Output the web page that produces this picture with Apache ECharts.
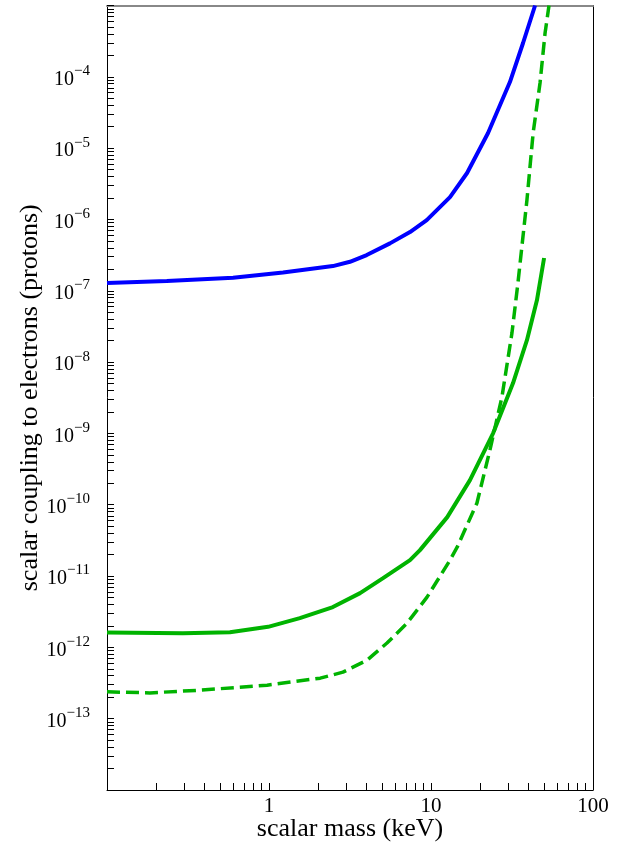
<!DOCTYPE html>
<html>
<head>
<meta charset="utf-8">
<script src="https://cdn.jsdelivr.net/npm/echarts@6/dist/echarts.min.js"></script>
<style>
  html, body { margin: 0; padding: 0; background: #fff; }
</style>
</head>
<body>
<!-- chart container, same size as the reference -->
<div id="main" style="width: 631px;height:844px;"></div>

<script type="text/javascript">

    // tick labels
    var massTicks = [1, 10, 100];
    var couplingTicks = [1e-13, 1e-12, 1e-11, 1e-10, 1e-9, 1e-8, 1e-7, 1e-6, 1e-5, 1e-4];

    // blue: electrons
    var blueMass = [0.1, 0.234, 0.60, 1.22, 2.48, 3.16, 4.01, 5.58, 7.42, 9.41, 13.1, 16.7, 22.5, 30.7, 37.0, 43.9];
    var blueCoupling = [1.29e-7, 1.37e-7, 1.52e-7, 1.81e-7, 2.22e-7, 2.55e-7, 3.17e-7, 4.62e-7, 6.65e-7, 9.8e-7, 2.06e-6, 4.48e-6, 1.63e-5, 8.45e-5, 2.98e-4, 1.0e-3];

    // green solid: protons
    var greenMass = [0.1, 0.294, 0.574, 0.987, 1.55, 2.48, 3.65, 5.06, 7.42, 8.55, 12.6, 17.4, 24.2, 32.1, 39.1, 45.1, 49.9];
    var greenCoupling = [1.62e-12, 1.58e-12, 1.63e-12, 1.94e-12, 2.57e-12, 3.67e-12, 5.76e-12, 9.35e-12, 1.67e-11, 2.31e-11, 6.70e-11, 2.21e-10, 1.01e-9, 5.08e-9, 2.03e-8, 7.41e-8, 2.88e-7];

    // green dashed
    var dashMass = [0.1, 0.184, 0.375, 0.973, 2.07, 2.86, 4.03, 5.35, 7.11, 9.45, 13.1, 14.5, 19.2, 23.1, 27.4, 31.6, 34.4, 39.1, 42.7, 47.1, 50.6, 53.5];
    var dashCoupling = [2.38e-13, 2.30e-13, 2.51e-13, 2.95e-13, 3.70e-13, 4.49e-13, 6.61e-13, 1.15e-12, 2.18e-12, 5.06e-12, 1.67e-11, 2.54e-11, 1.05e-10, 5.83e-10, 3.23e-9, 2.55e-8, 1.28e-7, 1.87e-6, 1.63e-5, 8.18e-5, 4.11e-4, 1.0e-3];

    function zip(xs, ys) {
        return xs.map(function (x, i) { return [x, ys[i]]; });
    }

    // ticks at 1..9 x 10^k
    function logTicks(lo, hi) {
        var out = [];
        for (var e = lo; e < hi; e++) {
            for (var m = 1; m < 10; m++) {
                out.push(Number((m + 'e' + e)));
            }
        }
        out.push(Number('1e' + hi));
        return out;
    }

    var font = 'Liberation Serif';

    var myChart = echarts.init(document.getElementById('main'));

    var option = {
        animation: false,
        backgroundColor: '#fff',
        grid: {
            left: 107,
            right: 38,
            top: 5.5,
            bottom: 54,
            containLabel: false,
            outerBoundsMode: 'none'
        },
        xAxis: [{
            type: 'log',
            logBase: 10,
            min: 0.1,
            max: 100,
            name: 'scalar mass (keV)',
            nameLocation: 'middle',
            nameGap: 26,
            nameMoveOverlap: false,
            nameTextStyle: { fontFamily: font, fontSize: 26, color: '#000' },
            axisLine: { lineStyle: { color: '#000', width: 1 } },
            axisTick: {
                inside: true,
                length: 7,
                customValues: logTicks(-1, 2),
                lineStyle: { color: '#000' }
            },
            axisLabel: {
                customValues: massTicks,
                margin: 6,
                fontFamily: font,
                fontSize: 21,
                color: '#000',
                formatter: function (v) { return String(Math.round(v)); }
            },
            splitLine: { show: false }
        }, {
            type: 'log',
            position: 'top',
            min: 0.1,
            max: 100,
            axisLine: { lineStyle: { color: '#888', width: 2 } },
            axisTick: { show: false },
            axisLabel: { show: false },
            splitLine: { show: false }
        }],
        yAxis: [{
            type: 'log',
            logBase: 10,
            min: 1e-14,
            max: 1e-3,
            name: 'scalar coupling to electrons (protons)',
            nameLocation: 'middle',
            nameGap: 64,
            nameMoveOverlap: false,
            nameTextStyle: { fontFamily: font, fontSize: 26, color: '#000' },
            axisLine: { lineStyle: { color: '#000', width: 1 } },
            axisTick: {
                inside: true,
                length: 7,
                customValues: logTicks(-14, -3),
                lineStyle: { color: '#000' }
            },
            axisLabel: {
                customValues: couplingTicks,
                margin: 17,
                color: '#000',
                formatter: function (v) {
                    var e = Math.round(Math.log(v) / Math.LN10);
                    return '{b|10}{s|\u2212' + Math.abs(e) + '}';
                },
                rich: {
                    b: { fontFamily: font, fontSize: 20, lineHeight: 26, verticalAlign: 'bottom', color: '#000' },
                    s: { fontFamily: font, fontSize: 15, lineHeight: 15, verticalAlign: 'top', color: '#000' }
                }
            },
            splitLine: { show: false }
        }, {
            type: 'log',
            position: 'right',
            min: 1e-14,
            max: 1e-3,
            axisLine: { show: true, lineStyle: { color: '#000', width: 1 } },
            axisTick: { show: false },
            axisLabel: { show: false },
            splitLine: { show: false }
        }],
        series: [{
            name: 'electrons',
            type: 'line',
            data: zip(blueMass, blueCoupling),
            showSymbol: false,
            symbol: 'none',
            lineStyle: { color: '#0000ff', width: 4 }
        }, {
            name: 'protons',
            type: 'line',
            data: zip(greenMass, greenCoupling),
            showSymbol: false,
            symbol: 'none',
            lineStyle: { color: '#00b300', width: 4 }
        }, {
            name: 'protons dashed',
            type: 'line',
            data: zip(dashMass, dashCoupling),
            showSymbol: false,
            symbol: 'none',
            lineStyle: { color: '#00b300', width: 3.5, type: [13, 6] }
        }]
    };

    myChart.setOption(option);

</script>
</body>
</html>
